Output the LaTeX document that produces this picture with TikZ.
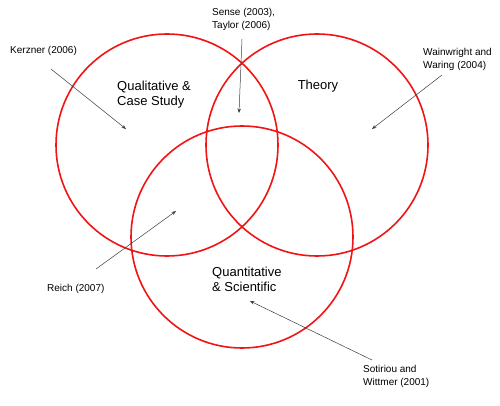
\documentclass[tikz,border=0pt]{standalone}
\usepackage{fontspec}
\setmainfont{Liberation Sans}
\usetikzlibrary{arrows.meta, positioning}
\definecolor{vred}{HTML}{F01414}
\definecolor{vline}{HTML}{3C3C3C}

\begin{document}
\begin{tikzpicture}[x=1pt, y=-1pt,
  every node/.style={font=\fontsize{10}{13}\selectfont, align=left, anchor=west, inner sep=0pt},
  field/.style={circle, draw=vred, line width=1.6pt, minimum size=222pt, anchor=center},
  big/.style={font=\fontsize{13}{15}\selectfont},
  cite/.style={draw=vline, line width=0.5pt, -{Stealth[length=4.5pt,width=3.5pt]}}]
  \useasboundingbox (0,0) rectangle (500,406);
  % the three fields
  \foreach \n/\x/\y in {qual/167/145, theo/317/145, quan/242/237} {
    \node[field] (\n) at (\x,\y) {};
  }
  \node[big] (qualtxt) at (117,94.5) {Qualitative \&\\Case Study};
  \node[big, anchor=center] (theotxt) at (318,86) {Theory};
  \node[big] (quantxt) at (212,279) {Quantitative\\\& Scientific};
  % the references
  \node (kerzner) at (10,51) {Kerzner (2006)};
  \node (sense) at (212,19.5) {Sense (2003),\\Taylor (2006)};
  \node (wain) at (423,59.5) {Wainwright and\\Waring (2004)};
  \node (reich) at (47,289) {Reich (2007)};
  \node (soti) at (363,376) {Sotiriou and\\Wittmer (2001)};
  \foreach \r/\ax/\ay/\bx/\by in {kerzner/51/69/126/129, sense/242/39/239/113,
      wain/442/75/372/129, reich/96/269/176/211, soti/372/360/250/301} {
    \coordinate (\r-from) at (\ax,\ay);
    \coordinate (\r-to) at (\bx,\by);
    \draw[cite] (\r-from) -- (\r-to);
  }
\end{tikzpicture}
\end{document}
